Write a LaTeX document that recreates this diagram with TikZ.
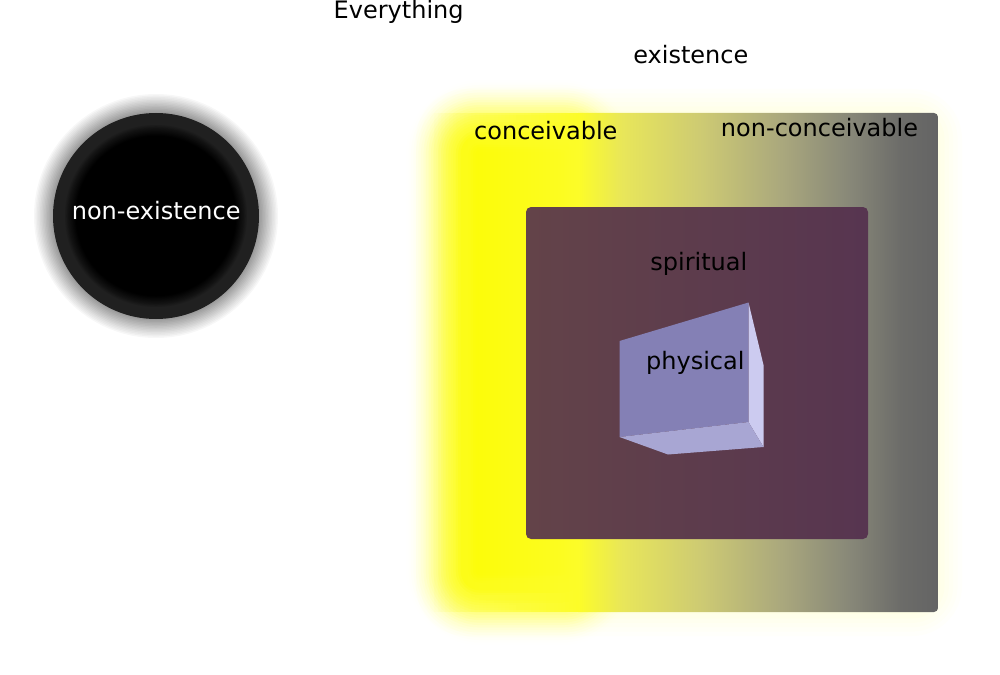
\documentclass[tikz,border=0pt]{standalone}
\usepackage{fontspec}
\setmainfont{DejaVu Sans}
\definecolor{ringgray}{RGB}{32,32,32}
\definecolor{purpL}{RGB}{99,67,73}
\definecolor{purpR}{RGB}{87,53,80}
\definecolor{cubeF}{RGB}{132,128,181}
\definecolor{cubeR}{RGB}{204,203,240}
\definecolor{cubeB}{RGB}{168,166,211}
\definecolor{glowY}{RGB}{255,255,0}
\definecolor{eA}{RGB}{252,252,40}
\definecolor{eB}{RGB}{232,230,90}
\definecolor{eC}{RGB}{205,202,115}
\definecolor{eD}{RGB}{170,168,125}
\definecolor{eE}{RGB}{135,135,120}
\definecolor{eF}{RGB}{108,108,105}
\definecolor{eG}{RGB}{100,100,100}
\pgfdeclarehorizontalshading{exist}{100bp}{color(0bp)=(eA); color(25bp)=(eA); color(31.2bp)=(eB); color(42.2bp)=(eC); color(53.2bp)=(eD); color(62.9bp)=(eE); color(69.8bp)=(eF); color(75bp)=(eG); color(100bp)=(eG)}
\begin{document}
\begin{tikzpicture}[x=1pt,y=-1pt,
  lbl/.style={font=\fontsize{24}{28}\selectfont, inner sep=0pt, anchor=base, text=black}]
\useasboundingbox (0,0) rectangle (1000,674);

% ---- yellow glow (core), smoothstep profile ----
\foreach \n in {1,...,30}{
  \pgfmathsetmacro\t{\n/30}
  \pgfmathsetmacro\s{(\n-1)/30}
  \pgfmathsetmacro\ct{3*\t*\t-2*\t*\t*\t}
  \pgfmathsetmacro\cs{3*\s*\s-2*\s*\s*\s}
  \pgfmathsetmacro\a{min(1,1-(1-\ct)/(1-\cs))}
  \pgfmathsetmacro\e{36-72*(\n-1)/29}
  \pgfmathsetmacro\r{\e+38}
  \pgfmathsetmacro\xa{442-(\e)}
  \pgfmathsetmacro\ya{116-(\e)}
  \pgfmathsetmacro\xb{600+(\e)}
  \pgfmathsetmacro\yb{609+(\e)}
  \fill[glowY, opacity=\a, rounded corners=\r pt] (\xa,\ya) rectangle (\xb,\yb);
}
% ---- faint wide glow ----
\foreach \n in {1,...,12}{
  \pgfmathsetmacro\e{24-48*(\n-1)/11}
  \pgfmathsetmacro\a{(0.2/12)/(1-0.2*(\n-1)/12)}
  \pgfmathsetmacro\r{\e+26}
  \pgfmathsetmacro\xa{440-(\e)}
  \pgfmathsetmacro\ya{113-(\e)}
  \pgfmathsetmacro\xb{938+(\e)}
  \pgfmathsetmacro\yb{612+(\e)}
  \fill[glowY, opacity=\a, rounded corners=\r pt] (\xa,\ya) rectangle (\xb,\yb);
}

% ---- existence rectangle (left part fades in) ----
\begin{scope}
  \clip[rounded corners=4pt] (430,113) rectangle (938,612);
  \foreach \n in {1,...,40}{
    \pgfmathsetmacro\xa{430+150*(\n-1)/40}
    \pgfmathsetmacro\a{1/(40-\n+1)}
    \fill[eA, opacity=\a] (\xa,113) rectangle (582,612);
  }
  \shade[shading=exist] (578,113) rectangle (938,612);
\end{scope}

% ---- spiritual rectangle ----
\shade[left color=purpL, right color=purpR, rounded corners=5pt] (526,207) rectangle (868,539);

% ---- physical cube ----
\fill[cubeF] (619.5,341) -- (748.5,302.5) -- (748.5,422) -- (619.5,437) -- cycle;
\fill[cubeR] (748.5,302.5) -- (763.5,365) -- (763.5,447) -- (748.5,422) -- cycle;
\fill[cubeB] (619.5,437) -- (748.5,422) -- (763.5,447) -- (668,454.5) -- cycle;

% ---- non-existence circle ----
\foreach \n in {1,...,14}{
  \pgfmathsetmacro\rr{122-19*(\n-1)/13}
  \pgfmathsetmacro\a{(0.42/14)/(1-0.42*(\n-1)/14)}
  \fill[black, opacity=\a] (156,216) circle (\rr pt);
}
\fill[ringgray] (156,216) circle (103pt);
\foreach \n in {1,...,10}{
  \pgfmathsetmacro\rr{91-11*(\n-1)/9}
  \pgfmathsetmacro\a{1/(10-\n+1)}
  \fill[black, opacity=\a] (156,216) circle (\rr pt);
}

% ---- labels ----
\node[lbl] (everything) at (398.7,18.3) {Everything};
\node[lbl] (existence) at (690.8,63.3) {existence};
\node[lbl] (conceivable) at (545.8,139.2) {conceivable};
\node[lbl] (nonconceivable) at (819.5,136.4) {non-conceivable};
\node[lbl] (spiritual) at (698.8,270.2) {spiritual};
\node[lbl] (physical) at (695.3,369) {physical};
\node[lbl, text=white] (nonexistence) at (156.2,219.3) {non-existence};
\end{tikzpicture}
\end{document}
